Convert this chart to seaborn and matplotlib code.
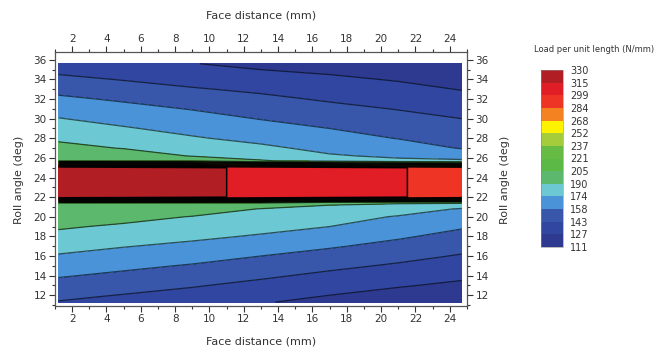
import numpy as np
import matplotlib
matplotlib.use("Agg")
import matplotlib.pyplot as plt
from matplotlib.colors import ListedColormap, BoundaryNorm
from matplotlib.ticker import MultipleLocator
import seaborn as sns

# ---------------- data ----------------
# grid positions
face_distance = [1.2, 5, 9, 13, 17, 21, 24.7]           # mm (columns)
roll_angle = [11.3, 12, 13, 14, 15, 16, 17, 18, 19, 20, 20.8, 21.4, 22.0,
              25.0, 25.7, 26.2, 27, 28, 29, 30, 31, 32, 33, 34, 35, 35.6]  # deg (rows)

# load per unit length (N/mm) along roll angle, one list per face distance
load_fd_1 = [142.3, 146.3, 152.8, 159.3, 166.0, 172.7, 179.2, 185.8, 191.9, 197.4, 201.7, 205, 328,
             328, 205, 201.1, 194.7, 187.4, 181.0, 174.6, 167.7, 160.8, 153.7, 146.6, 139.4, 135]
load_fd_5 = [138.6, 142.4, 148.6, 154.9, 161.3, 168.0, 174.7, 181.2, 187.7, 194.8, 200.6, 205, 323,
             323, 205, 198.75, 189.3, 182.3, 175.4, 168.9, 162.5, 156.0, 149.1, 142.3, 135.2, 131]
load_fd_9 = [134.2, 138.0, 144.25, 150.5, 156.75, 163.6, 170.5, 177.1, 183.2, 189.4, 198.1, 205, 318,
             318, 205, 189.2, 183.1, 175.5, 169.3, 163.3, 157.3, 150.8, 144.3, 137.8, 131.4, 127.5]
load_fd_13 = [128, 132.1, 138.9, 145.5, 151.75, 158, 165.3, 172.5, 178.7, 184.7, 189.4, 205, 312,
              312, 191, 185.4, 177.1, 169.7, 163.5, 157.4, 151.9, 146.3, 140.3, 133.7, 127, 123]
load_fd_17 = [123.2, 127, 133.4, 139.8, 146.3, 152.8, 159.5, 166.7, 174, 181.0, 186.5, 192, 306,
              306, 186, 175.5, 169.8, 163.9, 158, 152.4, 146.9, 141.3, 135.6, 129.9, 124.1, 120.7]
load_fd_21 = [118, 121.9, 128.3, 134.7, 141.1, 147.4, 153.6, 159.9, 166.3, 172.7, 182.7, 191, 300,
              300, 177, 171.6, 165.2, 157.5, 152.5, 147.5, 142.4, 136.9, 131.4, 125.9, 120.3, 117]
load_fd_25 = [114.6, 118.1, 124.0, 130.0, 135.9, 141.8, 147.6, 153.4, 159.5, 166.7, 172.5, 191, 293,
              293, 176, 168.7, 157.1, 152.4, 147.7, 143, 137.5, 132.0, 126.4, 120.9, 115.3, 112]

levels = [111, 127, 143, 158, 174, 190, 205, 221, 237, 252, 268, 284, 299, 315, 330]
band_colors = ["#2d3a90", "#3046a0", "#3857ab", "#4a93d8", "#6cc8d2", "#5cb86c",
               "#5cb946", "#66bb45", "#a5cc3a", "#fff200", "#f58220", "#ee3424",
               "#e11d25", "#b11f25"]

# ---------------- plotting ----------------
sns.set_style("ticks")
plt.rcParams['font.family'] = ['DejaVu Sans']

fig = plt.figure(figsize=(6.71, 3.5), dpi=100)
ax = fig.add_axes([55/671, 1-306/350, (467-55)/671, (306-52)/350])

X, Y = np.meshgrid(face_distance, roll_angle)
Z = np.column_stack([load_fd_1, load_fd_5, load_fd_9, load_fd_13,
                     load_fd_17, load_fd_21, load_fd_25])

cmap = ListedColormap(sns.color_palette(band_colors))
norm = BoundaryNorm(levels, cmap.N)
cf = ax.contourf(X, Y, Z, levels=levels, cmap=cmap, norm=norm)
low_levels = [v for v in levels if v <= 205]
high_levels = [v for v in levels if v > 205]
ax.contour(X, Y, Z, levels=low_levels, colors="black", linewidths=0.9, alpha=0.6)
ax.contour(X, Y, Z, levels=high_levels, colors="black", linewidths=1.1, alpha=0.95)

ax.set_xlim(1, 25)
ax.set_ylim(10.9, 36.8)
ax.xaxis.set_major_locator(MultipleLocator(2))
ax.xaxis.set_minor_locator(MultipleLocator(1))
ax.yaxis.set_major_locator(MultipleLocator(2))
ax.yaxis.set_minor_locator(MultipleLocator(1))
ax.tick_params(which="both", direction="out", top=True, right=True,
               labeltop=True, labelright=True, labelsize=7.5,
               colors="#333333", width=0.8)
ax.tick_params(which="major", length=4, pad=2)
ax.tick_params(which="minor", length=2)
for s in ax.spines.values():
    s.set_color("#555555")
    s.set_linewidth(0.9)

fig.text(261/671, 1-15/350, "Face distance (mm)", ha="center", va="center",
         fontsize=8, color="#333333")
fig.text(261/671, 1-341/350, "Face distance (mm)", ha="center", va="center",
         fontsize=8, color="#333333")
fig.text(19/671, 1-180/350, "Roll angle (deg)", ha="center", va="center",
         rotation=90, fontsize=8, color="#333333")
fig.text(505/671, 1-180/350, "Roll angle (deg)", ha="center", va="center",
         rotation=90, fontsize=8, color="#333333")

# colour bar
cax = fig.add_axes([541/671, 1-247/350, 22/671, 177/350])
cb = fig.colorbar(cf, cax=cax, ticks=levels)
cb.ax.set_yticklabels([str(v) for v in levels])
cb.ax.tick_params(length=0, labelsize=7, pad=5, colors="#333333")
cb.outline.set_linewidth(0.4)
cb.outline.set_edgecolor("#888888")
fig.text(594/671, 1-50/350, "Load per unit length (N/mm)", ha="center",
         va="center", fontsize=6, color="#333333")

fig.savefig("out.png", dpi=100)
